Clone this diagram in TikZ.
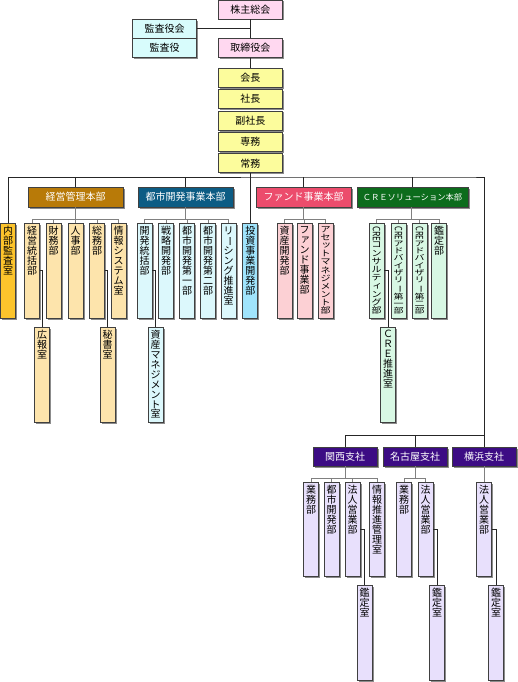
\documentclass[tikz,border=0pt]{standalone}
\usepackage{fontspec}
\usepackage{graphicx}
\usetikzlibrary{shadows}
\newfontfamily\jp{Noto Sans CJK JP}

\definecolor{kabu}{HTML}{FFD8F0}
\definecolor{kansa}{HTML}{D8FCFC}
\definecolor{yaku}{HTML}{FCFC9C}
\definecolor{naibu}{HTML}{FCC42C}
\definecolor{keieiH}{HTML}{B87A08}
\definecolor{keieiS}{HTML}{FDE4AC}
\definecolor{toshiH}{HTML}{0C5C84}
\definecolor{toshiS}{HTML}{DCF8FC}
\definecolor{toshiB}{HTML}{A0E4FC}
\definecolor{fundH}{HTML}{EC4C6C}
\definecolor{fundS}{HTML}{FCD0D4}
\definecolor{creH}{HTML}{0C6C1C}
\definecolor{creS}{HTML}{D8F8E4}
\definecolor{shishaH}{HTML}{3C0C84}
\definecolor{shishaS}{HTML}{E8E0FC}

% vertical text: one character per line, top aligned / squeezed to the box
\makeatletter
\def\tate@end{tate@end}
\def\tate@loop#1{\ifx\tate@end#1\else\hbox to 15pt{\hss#1\hss}\expandafter\tate@loop\fi}
\def\tate@stack#1{\baselineskip=10pt\lineskip=0.5pt\lineskiplimit=-1pt\tate@loop#1\tate@end}
\newcommand\tate[1]{\vbox to 88pt{\tate@stack{#1}\vss}}
\newcommand\tatefit[1]{\resizebox*{\width}{88pt}{\vbox{\tate@stack{#1}}}}
\makeatother
\newcommand\cho{\rotatebox[origin=c]{-90}{ー}}
\newcommand\sk[1]{\kern1.5pt\smash{\raisebox{1pt}{#1}}}
\newcommand\yoko[1]{\rotatebox{-90}{#1}}

\begin{document}
\begin{tikzpicture}[
  x=1pt, y=-1pt,
  box/.style={draw=black!75, line width=0.8pt, inner sep=0pt,
    drop shadow={shadow xshift=1.5pt, shadow yshift=-1.5pt, fill=black!45, opacity=1},
    font=\jp\fontsize{10pt}{10pt}\selectfont},
  hbox/.style={box, minimum width=64pt, minimum height=19pt},
  head/.style={box, minimum width=95pt, minimum height=20pt, text=white},
  vbox/.style={box, minimum width=15pt, minimum height=95pt},
  link/.style={draw=black!85, line width=0.8pt},
  fork/.style={draw=black!50, line width=0.8pt}
]
  \useasboundingbox (0,0) rectangle (517,682);
  \coordinate (bar) at (0,177);
  \coordinate (fk) at (0,219);
  \coordinate (bbar) at (0,435);
  \coordinate (bfk) at (0,478);

  % top
  \node[hbox, fill=kabu] (sokai) at (250.3,9.5) {株主総会};
  \node[hbox, fill=kabu] (torishimari) at (250.3,47.8) {取締役会};
  \node[hbox, fill=kansa] (kansakai) at (164.5,28.8) {監査役会};
  \node[hbox, fill=kansa] (kansayaku) at (164.5,47.8) {監査役};
  \node[hbox, fill=yaku] (kaicho) at (250.3,77.8) {会長};
  \node[hbox, fill=yaku] (shacho) at (250.3,99) {社長};
  \node[hbox, fill=yaku] (fukushacho) at (250.3,120.5) {副社長};
  \node[hbox, fill=yaku] (senmu) at (250.3,142.2) {専務};
  \node[hbox, fill=yaku] (jomu) at (250.3,163.2) {常務};

  % headquarters
  \node[head, fill=keieiH] (keieiH) at (75.5,197) {経営管理本部};
  \node[head, fill=toshiH] (toshiH) at (185.5,197) {都市開発事業本部};
  \node[head, fill=fundH] (fundH) at (303.5,197) {ファンド事業本部};
  \node[head, fill=creH, minimum width=111pt,
    font=\jp\fontsize{8.3pt}{10pt}\selectfont] (creH) at (412.5,197) {ＣＲＥソリューション本部};

  % departments
  \node[vbox, fill=naibu] (naibu) at (8,270.5) {\tate{内部監査室}};
  \node[vbox, fill=keieiS] (keieiT) at (32,270.5) {\tate{経営統括部}};
  \node[vbox, fill=keieiS] (zaimu) at (53.5,270.5) {\tate{財務部}};
  \node[vbox, fill=keieiS] (jinji) at (75.5,270.5) {\tate{人事部}};
  \node[vbox, fill=keieiS] (somu) at (97,270.5) {\tate{総務部}};
  \node[vbox, fill=keieiS] (joho) at (118.5,270.5) {\tate{情報システム室}};
  \node[vbox, fill=toshiS] (kaihatsuT) at (144.5,270.5) {\tate{開発統括部}};
  \node[vbox, fill=toshiS] (senryaku) at (166,270.5) {\tate{戦略開発部}};
  \node[vbox, fill=toshiS] (toshi1) at (187,270.5) {\tate{都市開発第一部}};
  \node[vbox, fill=toshiS] (toshi2) at (208,270.5) {\tate{都市開発第二部}};
  \node[vbox, fill=toshiS] (leasing) at (228.5,270.5) {\tate{リ\cho シング推進室}};
  \node[vbox, fill=toshiB] (toshiJ) at (250.3,270.5) {\tate{投資事業開発部}};
  \node[vbox, fill=fundS] (shisanK) at (284.5,270.5) {\tate{資産開発部}};
  \node[vbox, fill=fundS] (fundJ) at (304.5,270.5) {\tate{フ{\sk{ァ}}ンド事業部}};
  \node[vbox, fill=fundS] (asset) at (325.5,270.5) {\tatefit{アセ{\sk{ッ}}トマネジメント部}};
  \node[vbox, fill=creS] (consul) at (376.5,270.5) {\tatefit{{\yoko{CRE}}コンサルテ{\sk{ィ}}ング部}};
  \node[vbox, fill=creS] (adv1) at (398.5,270.5) {\tatefit{{\yoko{CRE}}アドバイザリ\cho 第一部}};
  \node[vbox, fill=creS] (adv2) at (419.5,270.5) {\tatefit{{\yoko{CRE}}アドバイザリ\cho 第二部}};
  \node[vbox, fill=creS] (kanteiB) at (439,270.5) {\tate{鑑定部}};

  % offices
  \node[vbox, fill=keieiS] (koho) at (42,374.5) {\tate{広報室}};
  \node[vbox, fill=keieiS] (hisho) at (107.5,374.5) {\tate{秘書室}};
  \node[vbox, fill=toshiS] (shisanM) at (155.5,374.5) {\tatefit{資産マネジメント室}};
  \node[vbox, fill=creS] (creSuishin) at (388,374.5) {\tate{ＣＲＥ推進室}};

  % branches
  \node[hbox, fill=shishaH, text=white] (kansai) at (345,456.5) {関西支社};
  \node[hbox, fill=shishaH, text=white] (nagoya) at (415,456.5) {名古屋支社};
  \node[hbox, fill=shishaH, text=white] (yokohama) at (484,456.5) {横浜支社};

  \node[vbox, fill=shishaS, minimum height=94pt] (kGyomu) at (311,529) {\tate{業務部}};
  \node[vbox, fill=shishaS, minimum height=94pt] (kToshi) at (331.5,529) {\tate{都市開発部}};
  \node[vbox, fill=shishaS, minimum height=94pt] (kHojin) at (352.5,529) {\tate{法人営業部}};
  \node[vbox, fill=shishaS, minimum height=94pt] (kJoho) at (377,529) {\tate{情報推進管理室}};
  \node[vbox, fill=shishaS, minimum height=94pt] (nGyomu) at (404,529) {\tate{業務部}};
  \node[vbox, fill=shishaS, minimum height=94pt] (nHojin) at (425.5,529) {\tate{法人営業部}};
  \node[vbox, fill=shishaS, minimum height=94pt] (yHojin) at (484,529) {\tate{法人営業部}};

  \node[vbox, fill=shishaS] (kKantei) at (364.5,632.5) {\tate{鑑定室}};
  \node[vbox, fill=shishaS] (nKantei) at (437,632.5) {\tate{鑑定室}};
  \node[vbox, fill=shishaS] (yKantei) at (496,632.5) {\tate{鑑定室}};

  % lines of the top
  \draw[link] (sokai) -- (torishimari);
  \draw[link] (kansakai.east) -- (kansakai.east -| sokai);
  \draw[link] (torishimari) -- (kaicho);
  \draw[link] (jomu) -- (toshiJ);
  \draw[link] (naibu.north) |- (bar -| creH.south east) -| (yokohama.north);
  \foreach \h in {keieiH,toshiH,fundH,creH}
    \draw[link] (\h.north) -- (\h.north |- bar);

  % forks
  \draw[fork] (keieiH) -- (keieiH |- fk);
  \draw[fork] (keieiT.north) |- (joho |- fk) -- (joho.north);
  \foreach \n in {zaimu,jinji,somu} \draw[fork] (\n.north) -- (\n |- fk);
  \draw[fork] (toshiH) -- (toshiH |- fk);
  \draw[fork] (kaihatsuT.north) |- (leasing |- fk) -- (leasing.north);
  \foreach \n in {senryaku,toshi1,toshi2} \draw[fork] (\n.north) -- (\n |- fk);
  \draw[fork] (fundH) -- (fundH |- fk);
  \draw[fork] (shisanK.north) |- (asset |- fk) -- (asset.north);
  \draw[fork] (fundJ.north) -- (fundJ |- fk);
  \draw[fork] (creH.south -| adv2.west) -- (adv2.west |- fk);
  \draw[fork] (consul.north) |- (kanteiB |- fk) -- (kanteiB.north);
  \foreach \n in {adv1,adv2} \draw[fork] (\n.north) -- (\n |- fk);

  \draw[link] (keieiT.east) -| (koho.north);
  \draw[link] (somu.east) -| (hisho.north);
  \draw[link] (kaihatsuT.east) -| (shisanM.north);
  \draw[link] (consul.east) -| (creSuishin.north);

  % branches
  \draw[link] (kansai.north) |- (yokohama |- bbar);
  \draw[link] (nagoya.north) -- (nagoya |- bbar);
  \draw[fork] (kansai) -- (kansai |- bfk);
  \draw[fork] (kGyomu.north) |- (kJoho |- bfk) -- (kJoho.north);
  \foreach \n in {kToshi,kHojin} \draw[fork] (\n.north) -- (\n |- bfk);
  \draw[fork] (nagoya) -- (nagoya |- bfk);
  \draw[fork] (nGyomu.north) |- (nHojin |- bfk) -- (nHojin.north);
  \draw[fork] (yokohama) -- (yHojin);
  \draw[link] (kHojin.east) -| (kKantei.north);
  \draw[link] (nHojin.east) -| (nKantei.north);
  \draw[link] (yHojin.east) -| (yKantei.north);
\end{tikzpicture}
\end{document}
